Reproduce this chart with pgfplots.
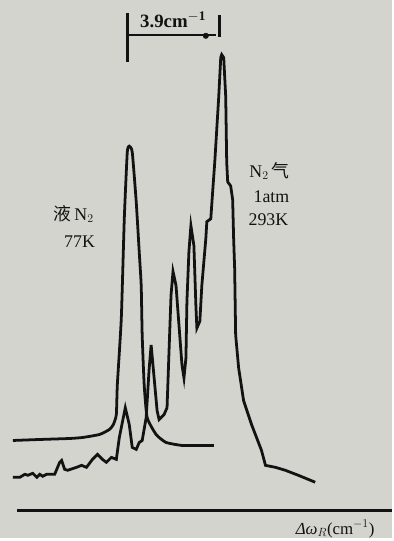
\documentclass[border=0pt]{standalone}
\usepackage{pgfplots}
\pgfplotsset{compat=1.18}
\usepackage{fontspec}
\setmainfont{Liberation Serif}
\newfontfamily\cjk{Noto Sans CJK SC}
\definecolor{paper}{RGB}{212,212,206}
\definecolor{ink}{RGB}{18,18,18}
\begin{document}
\begin{tikzpicture}
\begin{axis}[
  width=394bp, height=541bp, scale only axis,
  xmin=0, xmax=394, ymin=0, ymax=541,
  axis lines=none,
  axis background/.style={fill=paper},
  clip=false,
]
% liquid N2 (77 K)
\addplot[ink, line width=2.8pt, smooth, tension=0.3] coordinates {
(13,98) (40,99) (70,100) (83,101) (100,104) (110,109) (114,114) (117,124) (118,154) (122,221) (125,321) (128,388) (130,394) (133,388) (137,338) (140,288) (142,254) (143,204) (145,154) (148,121) (157,104) (167,96) (183,93) (200,93) (215,93)
};
% gaseous N2 (1 atm, 293 K)
\addplot[ink, line width=2.8pt] coordinates {
(13,61) (20,61) (25,64) (28,63) (33,65) (37,61) (40,64) (43,62) (47,64) (55,64) (60,76) (62,78) (65,69) (68,68) (77,71) (82,73) (87,71) (93,79) (98,84) (103,79) (107,76) (112,81) (117,79) (120,101) (126,131) (130,114) (133,91) (137,89) (140,96) (143,98) (147,121) (150,170) (152,194) (155,161) (158,128) (160,119) (165,124) (168,131) (170,188) (172,244) (174,268) (177,254) (180,214) (183,174) (185,161) (187,181) (188,238) (190,288) (192,314) (195,294) (197,234) (198,211) (201,218) (203,254) (207,301) (208,318) (212,321) (214,350) (216,378) (218,411) (220,444) (222,483) (223,486) (225,483) (227,444) (228,378) (229,358) (232,354) (234,340) (235,300) (236,271) (237,204) (240,171) (245,138) (253,114) (263,88) (267,73) (277,71) (287,68) (300,63) (317,56)
};
% baseline
\addplot[ink, line width=3pt] coordinates {(17,28) (394,28)};
% scale bar
\addplot[ink, line width=3pt] coordinates {(128,528) (128,479)};
\addplot[ink, line width=2.4pt] coordinates {(128,506) (217,506)};
\addplot[ink, line width=3pt] coordinates {(221,526) (221,504)};
\addplot[ink, only marks, mark=*, mark size=2.8pt] coordinates {(207,505)};
\node[font=\fontsize{19}{21}\selectfont\bfseries, text=ink] at (axis cs:174,521) {3.9cm$^{\mathbf{-1}}$};
\node[font=\fontsize{18}{20}\selectfont, text=ink] at (axis cs:271,369) {N$_2$\,{\cjk 气}};
\node[font=\fontsize{18}{20}\selectfont, text=ink] at (axis cs:273,343) {1atm};
\node[font=\fontsize{18}{20}\selectfont, text=ink] at (axis cs:270,320) {293K};
\node[font=\fontsize{18}{20}\selectfont, text=ink] at (axis cs:74,326) {{\cjk 液}\,N$_2$};
\node[font=\fontsize{18}{20}\selectfont, text=ink] at (axis cs:80,298) {77K};
\node[font=\fontsize{17}{19}\selectfont, text=ink] at (axis cs:337,9) {{\itshape Δω}$_{\scriptstyle R}$(cm$^{-1}$)};
\end{axis}
\end{tikzpicture}
\end{document}
